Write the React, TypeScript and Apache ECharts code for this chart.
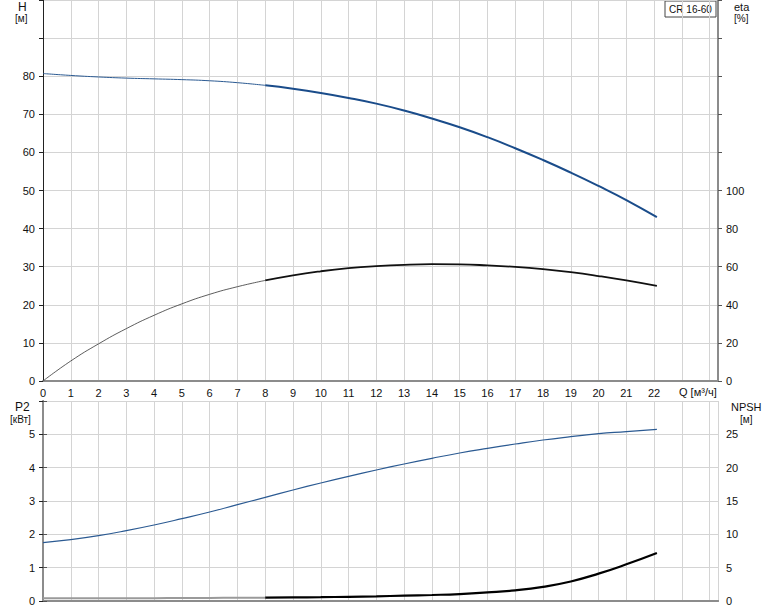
import React, { useEffect, useRef } from "react";
import * as echarts from "echarts";

const qValues = [0, 1, 2, 3, 4, 5, 6, 7, 8, 9, 10, 11, 12, 13, 14, 15, 16, 17, 18, 19, 20, 21, 22.1];
const headH = [80.7, 80.2, 79.8, 79.5, 79.3, 79.1, 78.8, 78.3, 77.6, 76.7, 75.6, 74.3, 72.8, 71.0, 68.9, 66.6, 64.0, 61.1, 58.0, 54.7, 51.2, 47.5, 43.0];
const etaPct = [0, 10.5, 19.5, 27.5, 34.5, 40.5, 45.5, 49.5, 52.8, 55.5, 57.6, 59.2, 60.3, 61.0, 61.3, 61.2, 60.7, 59.9, 58.7, 57.1, 55.1, 52.8, 49.9];
const powerP2 = [1.75, 1.84, 1.96, 2.11, 2.28, 2.47, 2.67, 2.89, 3.11, 3.33, 3.54, 3.74, 3.93, 4.11, 4.28, 4.44, 4.58, 4.71, 4.83, 4.93, 5.02, 5.08, 5.15];
const npsh = [0.4, 0.4, 0.41, 0.42, 0.43, 0.44, 0.46, 0.48, 0.5, 0.53, 0.57, 0.63, 0.7, 0.8, 0.9, 1.04, 1.28, 1.6, 2.13, 2.93, 4.1, 5.5, 7.2];
const splitIndex = 8; // thin (outside) part up to Q=8, thick after

const productName = "CR 16-60";
const xLabel = "Q [м³/ч]";

const pairs = (ys: number[], from: number, to: number) =>
  qValues.slice(from, to).map((q, i) => [q, ys[from + i]]);

const FONT = "'Liberation Sans', Arial, sans-serif";
const GRID_COLOR = "#d4d4d4";

export default function App() {
  const ref = useRef<HTMLDivElement>(null);
  useEffect(() => {
    if (!ref.current) return;
    const chart = echarts.init(ref.current, undefined, { renderer: "svg" });
    const labelStyle = { color: "#111", fontSize: 11, fontFamily: FONT };
    const n = qValues.length;
    const line = (xi: number, yi: number, data: number[][], color: string, width: number) => ({
      type: "line", xAxisIndex: xi, yAxisIndex: yi, data, smooth: true,
      showSymbol: false, lineStyle: { color, width },
    });
    chart.setOption({
      animation: false,
      backgroundColor: "#fff",
      textStyle: { fontFamily: FONT },
      grid: [
        { left: 43, right: 56, top: 0, height: 381 },
        { left: 43, right: 56, top: 401, height: 200 },
      ],
      xAxis: [
        {
          type: "value", gridIndex: 0, min: 0, max: 24.3, interval: 1,
          axisLine: { show: true, lineStyle: { color: "#8c8c8c", width: 2 } },
          axisTick: { show: false },
          axisLabel: { ...labelStyle, margin: 6, formatter: (v: number) => (v <= 22 ? String(v) : "") },
          splitLine: { show: true, lineStyle: { color: GRID_COLOR, width: 1 } },
        },
        {
          type: "value", gridIndex: 1, min: 0, max: 24.3, interval: 1,
          axisLine: { show: true, lineStyle: { color: "#8c8c8c", width: 2 } },
          axisTick: { show: false },
          axisLabel: { show: false },
          splitLine: { show: true, lineStyle: { color: GRID_COLOR, width: 1 } },
        },
        {
          type: "value", gridIndex: 1, position: "top", min: 0, max: 24.3, interval: 1,
          axisLine: { show: true, lineStyle: { color: "#8c8c8c", width: 2 } },
          axisTick: { show: false },
          axisLabel: { show: false },
          splitLine: { show: false },
        },
      ],
      yAxis: [
        {
          type: "value", gridIndex: 0, min: 0, max: 100, interval: 10, position: "left",
          axisLine: { show: true, lineStyle: { color: "#222", width: 1 } },
          axisTick: { show: true, length: 4, lineStyle: { color: "#222" } },
          axisLabel: { ...labelStyle, margin: 8, formatter: (v: number) => (v <= 80 ? String(v) : "") },
          splitLine: { show: true, lineStyle: { color: GRID_COLOR, width: 1 } },
        },
        {
          type: "value", gridIndex: 0, min: 0, max: 200, interval: 20, position: "right",
          axisLine: { show: true, lineStyle: { color: "#8c8c8c", width: 2 } },
          axisTick: { show: true, length: 4, lineStyle: { color: "#555" } },
          axisLabel: { ...labelStyle, margin: 8, formatter: (v: number) => (v <= 100 ? String(v) : "") },
          splitLine: { show: false },
        },
        {
          type: "value", gridIndex: 1, min: 0, max: 6, interval: 1, position: "left",
          axisLine: { show: true, lineStyle: { color: "#222", width: 1 } },
          axisTick: { show: true, length: 4, lineStyle: { color: "#222" } },
          axisLabel: { ...labelStyle, margin: 8, formatter: (v: number) => (v <= 5 ? String(v) : "") },
          splitLine: { show: true, lineStyle: { color: GRID_COLOR, width: 1 } },
        },
        {
          type: "value", gridIndex: 1, min: 0, max: 30, interval: 5, position: "right",
          axisLine: { show: true, lineStyle: { color: "#8c8c8c", width: 2 } },
          axisTick: { show: true, length: 4, lineStyle: { color: "#555" } },
          axisLabel: { ...labelStyle, margin: 8, formatter: (v: number) => (v <= 25 ? String(v) : "") },
          splitLine: { show: false },
        },
      ],
      series: [
        line(0, 0, pairs(headH, 0, splitIndex + 1), "#2b5a92", 1),
        line(0, 0, pairs(headH, splitIndex, n), "#1a4c8a", 2),
        line(0, 1, pairs(etaPct, 0, splitIndex + 1), "#333", 0.8),
        line(0, 1, pairs(etaPct, splitIndex, n), "#111", 1.8),
        line(1, 2, pairs(powerP2, 0, n), "#2b5a92", 1.2),
        line(1, 3, pairs(npsh, 0, splitIndex + 1), "#9a9a9a", 2),
        line(1, 3, pairs(npsh, splitIndex, n), "#000", 2.2),
      ],
      graphic: [
        { type: "text", left: 18, top: 1, style: { text: "H", font: `12px ${FONT}`, fill: "#111" } },
        { type: "text", left: 15, top: 13, style: { text: "[м]", font: `10px ${FONT}`, fill: "#111" } },
        { type: "text", left: 734, top: 1, style: { text: "eta", font: `11px ${FONT}`, fill: "#111" } },
        { type: "text", left: 734, top: 13, style: { text: "[%]", font: `10px ${FONT}`, fill: "#111" } },
        { type: "text", left: 15, top: 401, style: { text: "P2", font: `12px ${FONT}`, fill: "#111" } },
        { type: "text", left: 10, top: 414, style: { text: "[кВт]", font: `10px ${FONT}`, fill: "#111" } },
        { type: "text", left: 731, top: 401, style: { text: "NPSH", font: `11px ${FONT}`, fill: "#111" } },
        { type: "text", left: 740, top: 414, style: { text: "[м]", font: `10px ${FONT}`, fill: "#111" } },
        { type: "text", left: 679, top: 386, style: { text: xLabel, font: `11px ${FONT}`, fill: "#111" } },
        {
          type: "group", x: 665, y: 1,
          children: [
            { type: "rect", shape: { x: 0, y: 0, width: 51, height: 16 }, style: { fill: "#fff", stroke: "#444", lineWidth: 1 } },
            { type: "text", x: 25.5, y: 8.5, style: { text: productName, fontSize: 10, fontFamily: FONT, fill: "#111", align: "center", verticalAlign: "middle" } },
          ],
        },
      ],
    });
    return () => chart.dispose();
  }, []);
  return (
    <div
      ref={ref}
      style={{ position: "fixed", left: 0, top: 0, width: 774, height: 611, background: "#fff" }}
    />
  );
}
